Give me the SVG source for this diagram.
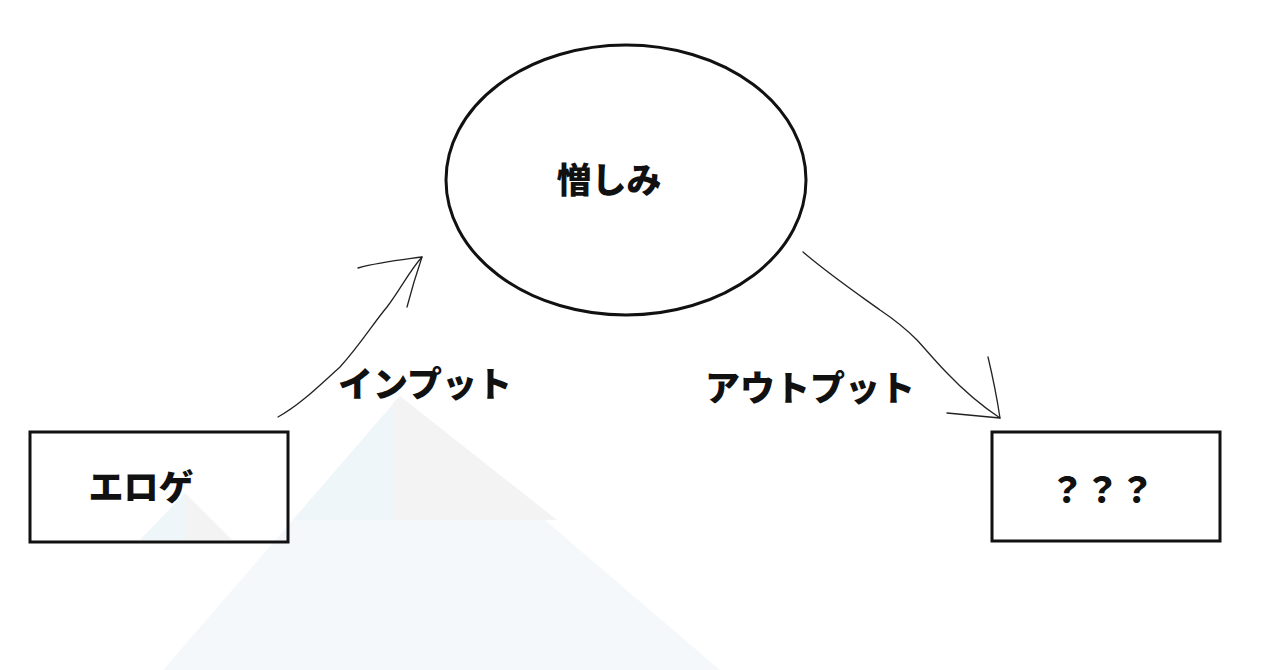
<svg xmlns="http://www.w3.org/2000/svg" width="1280" height="670" viewBox="0 0 1280 670">
<style>
.box{fill:none;stroke:#111;stroke-width:3}
.lbl{font-family:"Noto Sans CJK JP","Noto Sans",sans-serif;font-weight:900;font-size:35px;fill:#111;text-anchor:middle;dominant-baseline:central}
.edge{fill:none;stroke:#222;stroke-width:1.3;stroke-linecap:round;stroke-linejoin:round}
</style>
<rect width="1280" height="670" fill="#ffffff"/>
<g id="watermark">
<polygon points="400,396 163,670 720,670" fill="#f5f8fa"/>
<polygon points="400,396 293,520 393,520 393,403" fill="#eef6fa"/>
<polygon points="400,396 393,403 393,520 557,520" fill="#f3f3f3"/>
<polygon points="185,493 140,540 185,540" fill="#eef6fa"/>
<polygon points="185,493 185,540 232,540" fill="#f3f3f3"/>
</g>
<g id="n_hate">
<ellipse cx="626" cy="180" rx="180" ry="135" fill="none" stroke="#111" stroke-width="3"/>
<text class="lbl" x="609" y="177">憎しみ</text>
</g>
<g id="n_eroge">
<rect class="box" x="30" y="432" width="258" height="110"/>
<text class="lbl" x="141" y="484">エロゲ</text>
</g>
<g id="n_unknown">
<rect class="box" x="992" y="432" width="228" height="109"/>
<text class="lbl" x="1102" y="487">？？？</text>
</g>
<g id="connectors">
<path class="edge" d="M278,417 C300,405 320,385 340,367 C360,345 372,325 387,307 C400,290 410,270 422,257"/>
<path class="edge" d="M358,268 C380,262 400,260 422,257 L414,282 L407,307"/>
<path class="edge" d="M803,252 C830,275 855,292 880,310 C895,320 907,330 917,340 C928,352 937,363 947,373 C965,392 985,408 1000,418"/>
<path class="edge" d="M988,357 C993,378 997,398 1000,418 L947,413"/>
</g>
<g id="edge_labels">
<text class="lbl" x="425" y="381">インプット</text>
<text class="lbl" x="810" y="385">アウトプット</text>
</g>
</svg>
